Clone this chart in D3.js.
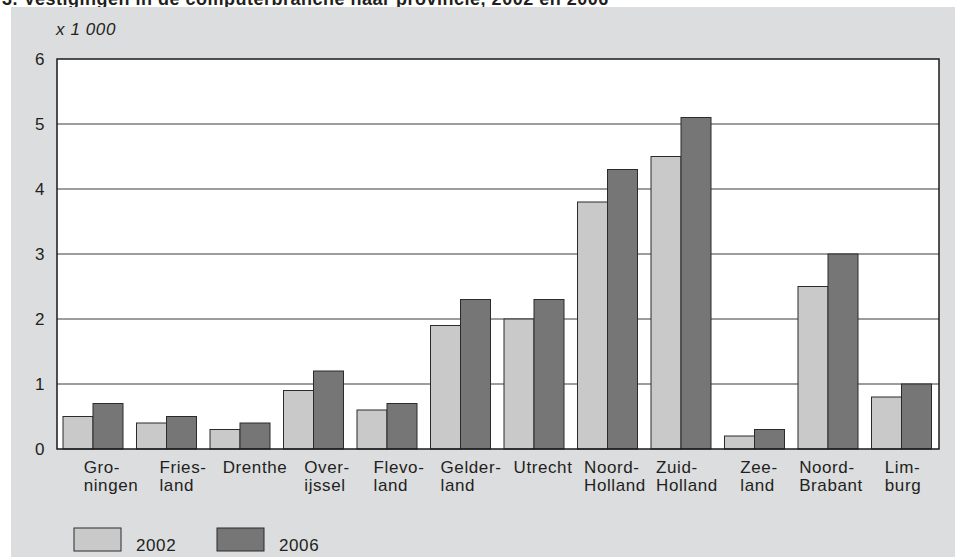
<!DOCTYPE html>
<html lang="nl">
<head>
    <meta charset="UTF-8">
    <title>Vestigingen in de computerbranche</title>
    <script src="https://d3js.org/d3.v7.min.js"></script>
    <style>
        body {
            margin: 0;
            background: #ffffff;
            font-family: "Liberation Sans", Arial, sans-serif;
        }
        svg {
            display: block;
        }
        text {
            font-size: 17px;
            fill: #231f20;
            letter-spacing: 0.6px;
        }
    </style>
</head>
<body>
    <div id="container"></div>

    <script>
        // data (x 1 000 vestigingen)
        const provinces = [
            ['Gro-', 'ningen'], ['Fries-', 'land'], ['Drenthe'], ['Over-', 'ijssel'],
            ['Flevo-', 'land'], ['Gelder-', 'land'], ['Utrecht'], ['Noord-', 'Holland'],
            ['Zuid-', 'Holland'], ['Zee-', 'land'], ['Noord-', 'Brabant'], ['Lim-', 'burg']
        ];
        const names = provinces.map(p => p.join(''));
        const years = ['2002', '2006'];
        const values2002 = [0.5, 0.4, 0.3, 0.9, 0.6, 1.9, 2.0, 3.8, 4.5, 0.2, 2.5, 0.8];
        const values2006 = [0.7, 0.5, 0.4, 1.2, 0.7, 2.3, 2.3, 4.3, 5.1, 0.3, 3.0, 1.0];
        const yTicks = [0, 1, 2, 3, 4, 5, 6];

        const width = 957, height = 557;
        const margin = {left: 57, right: 18, top: 59, bottom: 108};
        const colors = {'2002': '#c9c9c9', '2006': '#767676'};

        const svg = d3.select('#container').append('svg')
            .attr('width', width)
            .attr('height', height);

        // title (cut off at the top in the original)
        svg.append('text')
            .attr('x', 2)
            .attr('y', 5)
            .style('font-size', '18px')
            .style('font-weight', 'bold')
            .style('letter-spacing', '0.5px')
            .text('3. Vestigingen in de computerbranche naar provincie, 2002 en 2006 ¹⁾');

        // gray panel
        svg.append('rect')
            .attr('x', 11)
            .attr('y', 7)
            .attr('width', 944)
            .attr('height', height - 7)
            .attr('fill', '#dcdddf');

        // scales
        const x = d3.scaleBand()
            .domain(names)
            .range([margin.left, width - margin.right])
            .paddingInner(0)
            .paddingOuter(0);

        const xSub = d3.scaleBand()
            .domain(years)
            .range([6, x.bandwidth() - 7.5]);

        const xLabel = d3.scalePoint()
            .domain(names)
            .range([111, 903]);

        const y = d3.scaleLinear()
            .domain([0, 6])
            .range([height - margin.bottom, margin.top]);

        // plot area
        svg.append('rect')
            .attr('x', margin.left)
            .attr('y', y(6))
            .attr('width', x.range()[1] - margin.left)
            .attr('height', y(0) - y(6))
            .attr('fill', '#ffffff');

        // gridlines
        svg.selectAll('.grid')
            .data(yTicks.slice(1, -1))
            .enter()
            .append('line')
            .attr('x1', margin.left)
            .attr('x2', x.range()[1])
            .attr('y1', d => y(d))
            .attr('y2', d => y(d))
            .attr('stroke', '#3a3a3a')
            .attr('stroke-width', 1);

        // bars
        const rows = names.map((n, i) => ({name: n, '2002': values2002[i], '2006': values2006[i]}));

        const groups = svg.selectAll('.group')
            .data(rows)
            .enter()
            .append('g')
            .attr('transform', d => `translate(${x(d.name)},0)`);

        groups.selectAll('rect')
            .data(d => years.map(k => ({year: k, value: d[k]})))
            .enter()
            .append('rect')
            .attr('x', d => xSub(d.year))
            .attr('y', d => y(d.value))
            .attr('width', xSub.bandwidth())
            .attr('height', d => y(0) - y(d.value))
            .attr('fill', d => colors[d.year])
            .attr('stroke', '#2b2b2b')
            .attr('stroke-width', 1);

        // frame
        svg.append('rect')
            .attr('x', margin.left)
            .attr('y', y(6))
            .attr('width', x.range()[1] - margin.left)
            .attr('height', y(0) - y(6))
            .attr('fill', 'none')
            .attr('stroke', '#1a1a1a')
            .attr('stroke-width', 1.5);

        // y tick labels
        svg.selectAll('.ytick')
            .data(yTicks)
            .enter()
            .append('text')
            .attr('x', 45)
            .attr('y', d => y(d))
            .attr('dy', '0.35em')
            .attr('text-anchor', 'end')
            .text(d => d);

        svg.append('text')
            .attr('x', 56)
            .attr('y', 35)
            .style('font-style', 'italic')
            .text('x 1 000');

        // category labels: lines left aligned, block centred
        provinces.forEach((lines, i) => {
            const t = svg.append('text')
                .attr('y', 473);
            lines.forEach((l, j) => {
                t.append('tspan')
                    .attr('x', 0)
                    .attr('dy', j === 0 ? 0 : 18)
                    .text(l);
            });
            const w = t.node().getBBox().width;
            t.selectAll('tspan').attr('x', xLabel(names[i]) - w / 2);
        });

        // legend
        const legend = svg.selectAll('.legend')
            .data(years)
            .enter()
            .append('g')
            .attr('transform', (d, i) => `translate(${74 + i * 143},528)`);

        legend.append('rect')
            .attr('width', 47)
            .attr('height', 23)
            .attr('fill', d => colors[d])
            .attr('stroke', '#2b2b2b')
            .attr('stroke-width', 1);

        legend.append('text')
            .attr('x', 62)
            .attr('y', 23)
            .text(d => d);
    </script>
</body>
</html>
